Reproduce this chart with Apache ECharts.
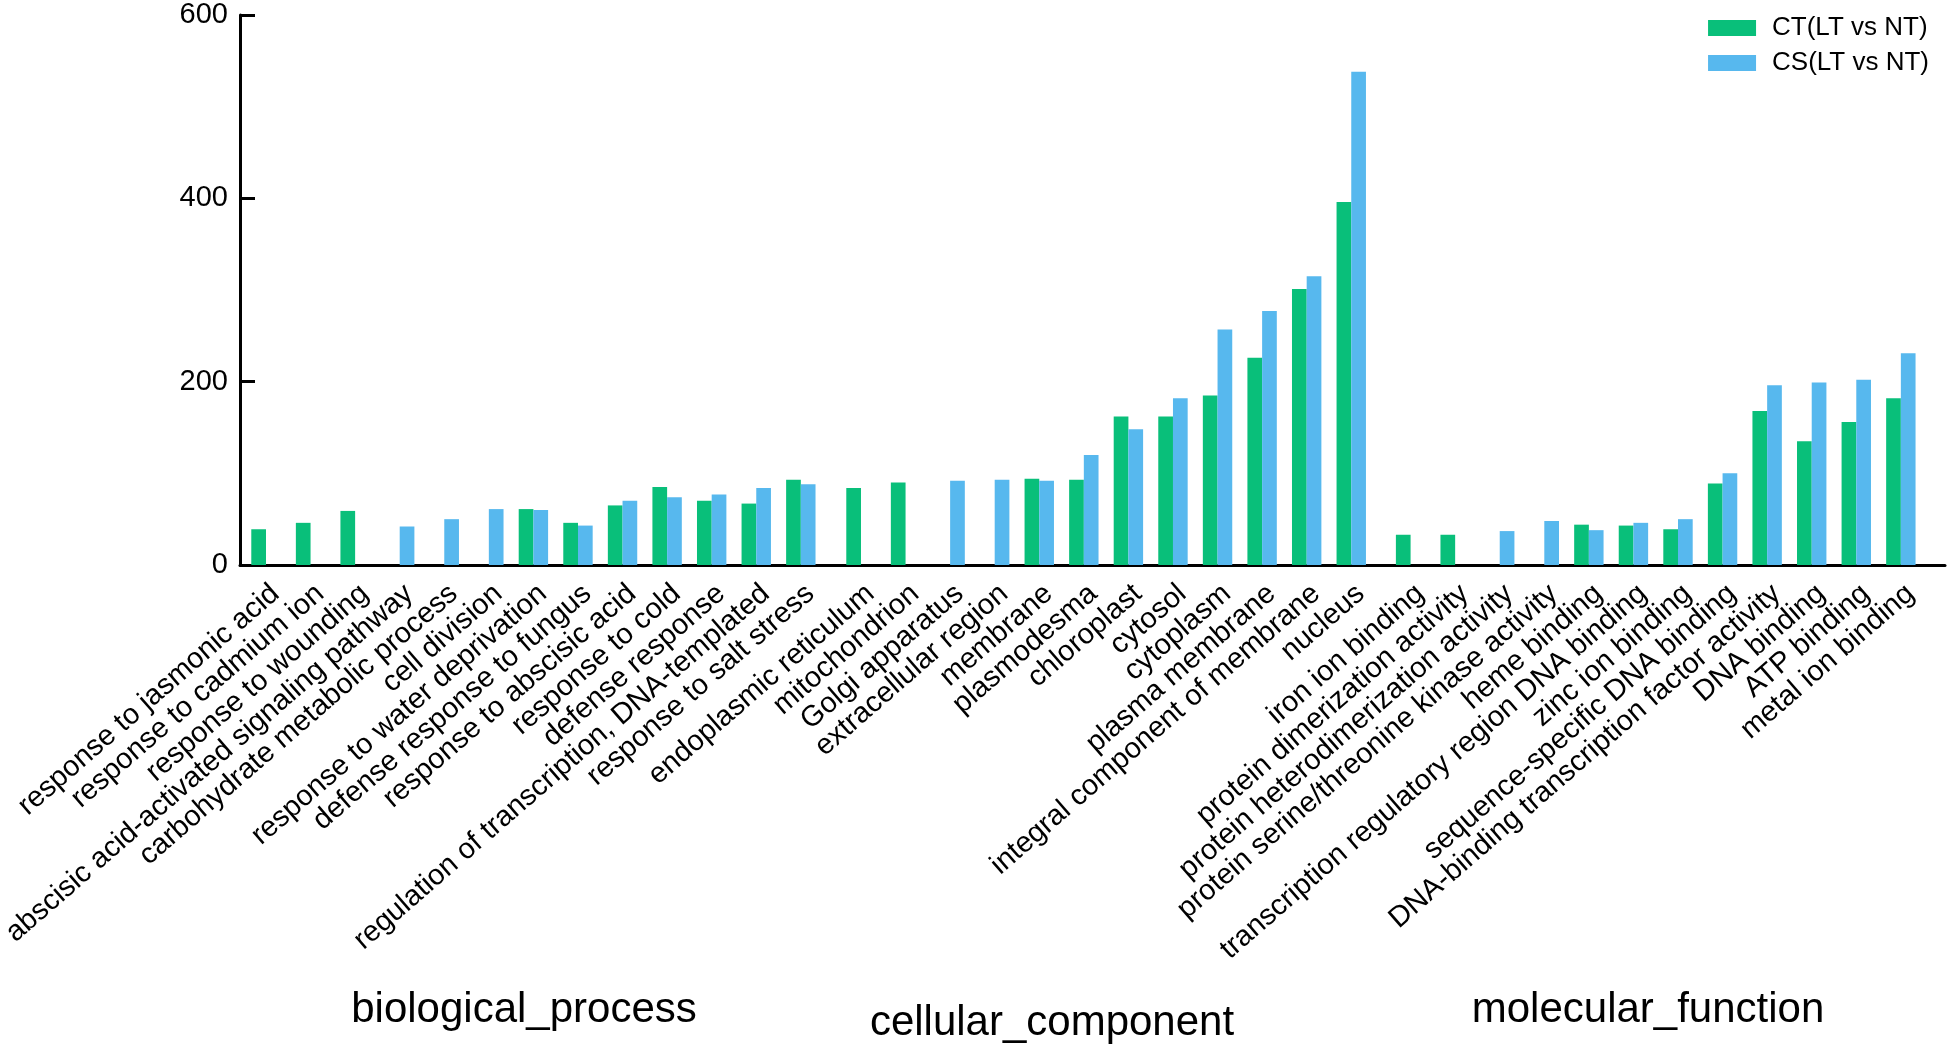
<!DOCTYPE html>
<html>
<head>
<meta charset="utf-8">
<script src="https://cdn.jsdelivr.net/npm/echarts@6/dist/echarts.min.js"></script>
<style>
html,body{margin:0;padding:0;background:#fff;}
#chart{width:1950px;height:1044px;}
</style>
</head>
<body>
<div id="chart"></div>
<script>
// ---------- data ----------
const seriesNames = ['CT(LT vs NT)', 'CS(LT vs NT)'];
const groupNames = ['biological_process', 'cellular_component', 'molecular_function'];
const yTicks = [0, 200, 400, 600];

const bpCategories = [
  'response to jasmonic acid', 'response to cadmium ion', 'response to wounding',
  'abscisic acid-activated signaling pathway', 'carbohydrate metabolic process',
  'cell division', 'response to water deprivation', 'defense response to fungus',
  'response to abscisic acid', 'response to cold', 'defense response',
  'regulation of transcription, DNA-templated', 'response to salt stress'
];
const bpCT = [39, 46, 59, null, null, null, 61, 46, 65, 85, 70, 67, 93];
const bpCS = [null, null, null, 42, 50, 61, 60, 43, 70, 74, 77, 84, 88];

const ccCategories = [
  'endoplasmic reticulum', 'mitochondrion', 'Golgi apparatus', 'extracellular region',
  'membrane', 'plasmodesma', 'chloroplast', 'cytosol', 'cytoplasm',
  'plasma membrane', 'integral component of membrane', 'nucleus'
];
const ccCT = [84, 90, null, null, 94, 93, 162, 162, 185, 226, 301, 396];
const ccCS = [null, null, 92, 93, 92, 120, 148, 182, 257, 277, 315, 538];

const mfCategories = [
  'iron ion binding', 'protein dimerization activity', 'protein heterodimerization activity',
  'protein serine/threonine kinase activity', 'heme binding',
  'transcription regulatory region DNA binding', 'zinc ion binding',
  'sequence-specific DNA binding', 'DNA-binding transcription factor activity',
  'DNA binding', 'ATP binding', 'metal ion binding'
];
const mfCT = [33, 33, null, null, 44, 43, 39, 89, 168, 135, 156, 182];
const mfCS = [null, null, 37, 48, 38, 46, 50, 100, 196, 199, 202, 231];

// ---------- layout / style ----------
const FONT = '"Liberation Sans", Arial, Helvetica, sans-serif';
const GREEN = '#09BF7A';
const BLUE = '#57B8EE';
const BAND = 44.57;
const TOP = 15, BOTTOM = 479;
const groupLeft = [243.7, 838.7, 1388.3];
const groupLabelPos = [[524, 1010], [1052, 1023], [1648, 1010]];

const groups = [
  { cats: bpCategories, ct: bpCT, cs: bpCS },
  { cats: ccCategories, ct: ccCT, cs: ccCS },
  { cats: mfCategories, ct: mfCT, cs: mfCS }
];

const yMin = yTicks[0], yMax = yTicks[yTicks.length - 1], yInt = yTicks[1] - yTicks[0];

const grid = [{ left: 240, right: 5, top: TOP, bottom: BOTTOM, outerBoundsMode: 'none', containLabel: false }];
const xAxis = [{
  type: 'value', gridIndex: 0, min: 0, max: 1,
  axisLine: { show: true, onZero: false, lineStyle: { color: '#000', width: 3 } },
  axisTick: { show: false }, axisLabel: { show: false }, splitLine: { show: false }
}];
const yAxis = [{
  type: 'value', gridIndex: 0, min: yMin, max: yMax, interval: yInt,
  axisLine: { show: true, lineStyle: { color: '#000', width: 3 } },
  axisTick: { show: true, inside: true, length: 15, lineStyle: { color: '#000', width: 3 } },
  axisLabel: { fontSize: 29, color: '#000', fontFamily: FONT, margin: 12 },
  splitLine: { show: false }
}];
const series = [];

groups.forEach((g, i) => {
  grid.push({
    left: groupLeft[i], width: g.cats.length * BAND, top: TOP, bottom: BOTTOM,
    outerBoundsMode: 'none', containLabel: false
  });
  xAxis.push({
    type: 'category', gridIndex: i + 1, data: g.cats,
    axisLine: { show: false }, axisTick: { show: false },
    axisLabel: {
      interval: 0, rotate: 41, fontSize: 29,
      align: 'right', verticalAlign: 'top',
      color: '#000', fontFamily: FONT, margin: 14
    }
  });
  yAxis.push({ type: 'value', gridIndex: i + 1, min: yMin, max: yMax, show: false });
  series.push({
    type: 'bar', name: seriesNames[0], xAxisIndex: i + 1, yAxisIndex: i + 1,
    data: g.ct, barWidth: 14.7, barGap: '0%',
    itemStyle: { color: GREEN }
  });
  series.push({
    type: 'bar', name: seriesNames[1], xAxisIndex: i + 1, yAxisIndex: i + 1,
    data: g.cs, barWidth: 14.7, barGap: '0%',
    itemStyle: { color: BLUE }
  });
});

const chart = echarts.init(document.getElementById('chart'), null, { renderer: 'canvas' });
chart.setOption({
  animation: false,
  backgroundColor: '#fff',
  grid, xAxis, yAxis, series,
  legend: {
    data: seriesNames, orient: 'vertical', right: 16, top: 10,
    icon: 'rect', itemWidth: 48, itemHeight: 16, itemGap: 9,
    textStyle: { fontSize: 26, color: '#000', fontFamily: FONT, lineHeight: 26, padding: [0, 0, 0, 11] }
  },
  graphic: groupNames.map((name, i) => ({
    type: 'text', x: groupLabelPos[i][0], y: groupLabelPos[i][1],
    style: { text: name, fontSize: 42, fontFamily: FONT, fill: '#000', align: 'center', verticalAlign: 'middle' }
  }))
});
</script>
</body>
</html>
